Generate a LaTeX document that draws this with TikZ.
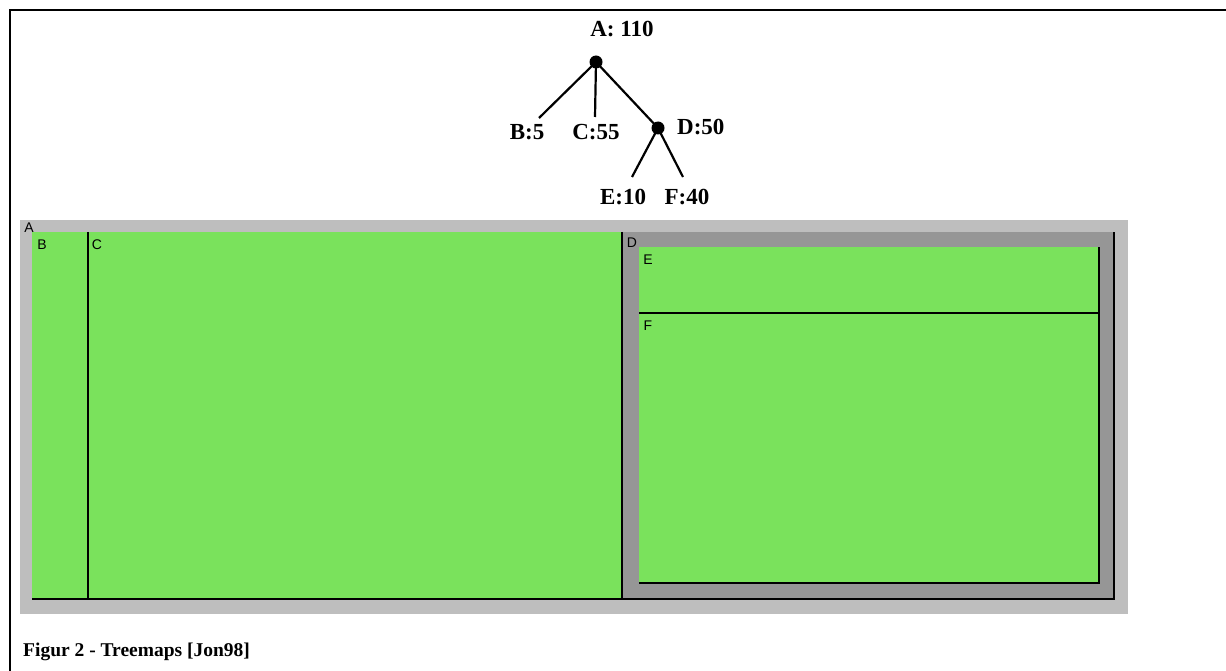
\documentclass[tikz,border=0pt]{standalone}
\usepackage{fontspec}
\setmainfont{Liberation Serif}
\newfontfamily\smallsans{Liberation Sans}
\definecolor{tmgreen}{RGB}{122,226,92}
\definecolor{lightgray}{RGB}{190,190,190}
\definecolor{darkgray}{RGB}{150,150,150}
\begin{document}
\begin{tikzpicture}[x=1pt,y=-1pt,
  treelabel/.style={inner sep=0pt,font=\fontsize{23}{23}\selectfont\bfseries},
  dot/.style={circle,fill=black,inner sep=0pt,minimum size=13pt},
  edge/.style={line width=2.2pt},
  maplabel/.style={inner sep=0pt,font=\smallsans\fontsize{14}{14}\selectfont},
  shadow/.style={line width=2pt,black}]
\useasboundingbox (0,0) rectangle (1226,671);
% frame
\draw[line width=2pt] (10,671) -- (10,10) -- (1226,10);
% tree
\node[treelabel] (Alab) at (622,29) {A: 110};
\node[dot] (A) at (596,62) {};
\node[dot] (D) at (658,128) {};
\node[treelabel] (Blab) at (527,132) {B:5};
\node[treelabel] (Clab) at (596,132) {C:55};
\node[treelabel,anchor=west] (Dlab) at (677,127) {D:50};
\node[treelabel] (Elab) at (623,197) {E:10};
\node[treelabel] (Flab) at (687,197) {F:40};
\coordinate (Bend) at (539,118);
\coordinate (Cend) at (595,117);
\coordinate (Eend) at (632,177);
\coordinate (Fend) at (683,177);
\draw[edge] (A.center) -- (Bend);
\draw[edge] (A.center) -- (Cend);
\draw[edge] (A.center) -- (D.center);
\draw[edge] (D.center) -- (Eend);
\draw[edge] (D.center) -- (Fend);
% treemap
\fill[lightgray] (20,220) rectangle (1128,614);
\fill[tmgreen] (32,232) rectangle (622,600);
\fill[darkgray] (622,232) rectangle (1114,600);
\fill[tmgreen] (639,247) rectangle (1099,584);
\draw[shadow] (32,599) -- (622,599);
\draw[shadow] (88,232) -- (88,599);
\draw[shadow] (622,232) -- (622,600);
\draw[shadow] (622,599) -- (1114,599) -- (1114,232);
\draw[shadow] (639,313) -- (1099,313);
\draw[shadow] (639,583) -- (1099,583) -- (1099,247);
\node[maplabel] (mA) at (29,228) {A};
\node[maplabel] (mB) at (42,245) {B};
\node[maplabel] (mC) at (97,245) {C};
\node[maplabel] (mD) at (632,243) {D};
\node[maplabel] (mE) at (648,260) {E};
\node[maplabel] (mF) at (648,326) {F};
% caption
\node[anchor=base west,inner sep=0pt,font=\fontsize{19.5}{19.5}\selectfont\bfseries] (cap) at (23,656) {Figur 2 - Treemaps [Jon98]};
\end{tikzpicture}
\end{document}
